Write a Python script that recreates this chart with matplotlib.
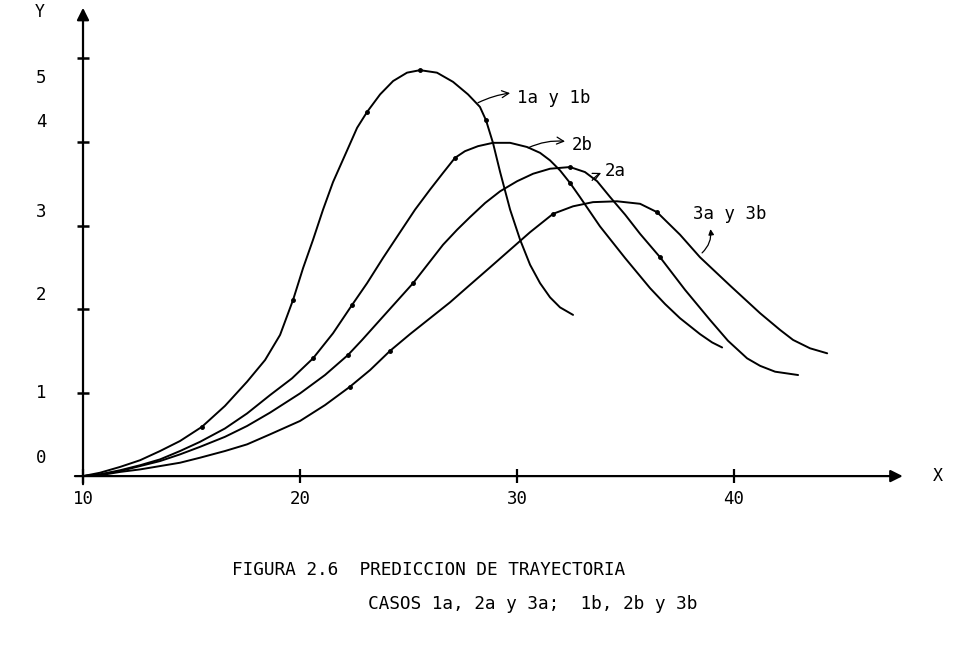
import matplotlib
matplotlib.use("Agg")
import matplotlib.pyplot as plt

# Curva 1a y 1b
x1 = [10.00, 10.78, 11.71, 12.63, 13.55, 14.47, 15.48, 16.54, 17.56, 18.39, 19.08, 19.68,
      20.14, 20.60, 21.06, 21.52, 22.17, 22.63, 23.09, 23.69, 24.29, 24.93, 25.53, 26.31,
      27.05, 27.74, 28.29, 28.57, 28.89, 29.22, 29.68, 30.14, 30.60, 31.06, 31.52, 31.98, 32.58]
y1 = [0.00, 0.04, 0.11, 0.19, 0.30, 0.42, 0.59, 0.84, 1.13, 1.39, 1.69, 2.11,
      2.49, 2.83, 3.19, 3.52, 3.90, 4.17, 4.36, 4.57, 4.73, 4.83, 4.86, 4.83,
      4.72, 4.57, 4.42, 4.26, 3.99, 3.64, 3.19, 2.83, 2.53, 2.31, 2.14, 2.02, 1.93]
dots1 = [6, 11, 18, 22, 27]

# Curva 2b
x2b = [10.00, 10.78, 11.71, 12.63, 13.55, 14.47, 15.39, 16.54, 17.56, 18.62, 19.63, 20.60,
       21.52, 22.40, 23.09, 23.82, 24.61, 25.30, 25.99, 26.59, 27.14, 27.60, 28.20, 28.89,
       29.68, 30.46, 31.06, 31.52, 31.98, 32.44, 32.90, 33.82, 34.98, 36.13, 36.82, 37.51,
       38.43, 38.99, 39.45]
y2b = [0.00, 0.02, 0.07, 0.13, 0.20, 0.30, 0.41, 0.57, 0.75, 0.97, 1.17, 1.41,
       1.71, 2.05, 2.31, 2.61, 2.92, 3.19, 3.43, 3.63, 3.81, 3.89, 3.95, 3.99,
       3.99, 3.94, 3.87, 3.78, 3.66, 3.51, 3.34, 2.99, 2.61, 2.25, 2.06, 1.89,
       1.70, 1.60, 1.54]
dots2b = [11, 13, 20, 29]

# Curva 2a
x2a = [10.00, 10.78, 11.71, 12.63, 13.55, 14.47, 15.39, 16.54, 17.56, 18.62, 20.00, 21.15,
       22.21, 22.86, 23.55, 24.38, 25.21, 25.90, 26.59, 27.24, 27.83, 28.53, 29.22, 30.00,
       30.74, 31.52, 32.44, 33.13, 33.69, 34.29, 34.98, 35.67, 36.59, 37.74, 38.89, 39.72,
       40.60, 41.20, 41.89, 42.95]
y2a = [0.00, 0.02, 0.06, 0.12, 0.18, 0.26, 0.35, 0.47, 0.60, 0.76, 0.99, 1.21,
       1.45, 1.63, 1.83, 2.07, 2.31, 2.54, 2.77, 2.95, 3.10, 3.27, 3.41, 3.53,
       3.62, 3.68, 3.70, 3.64, 3.53, 3.34, 3.13, 2.90, 2.62, 2.23, 1.87, 1.62,
       1.41, 1.32, 1.25, 1.21]
dots2a = [12, 16, 26, 32]

# Curva 3a y 3b
x3 = [10.00, 10.78, 11.71, 12.63, 13.55, 14.47, 15.39, 16.54, 17.56, 18.62, 20.00, 21.15,
      22.30, 23.23, 24.15, 25.07, 25.99, 26.91, 27.70, 28.76, 29.68, 30.60, 31.66, 32.58,
      33.50, 34.61, 35.67, 36.45, 37.51, 38.43, 39.82, 41.20, 42.12, 42.72, 43.50, 44.29]
y3 = [0.00, 0.01, 0.05, 0.08, 0.12, 0.16, 0.22, 0.30, 0.38, 0.50, 0.66, 0.85,
      1.07, 1.27, 1.50, 1.70, 1.89, 2.08, 2.26, 2.50, 2.71, 2.92, 3.14, 3.23,
      3.28, 3.29, 3.26, 3.16, 2.89, 2.62, 2.28, 1.95, 1.75, 1.63, 1.53, 1.47]
dots3 = [12, 14, 22, 27]

x_ticks = [10, 20, 30, 40]
y_ticks = [1, 2, 3, 4, 5]
# los numeros del eje Y estan escritos a mano, algo desplazados de las marcas
y_label_text = ["0", "1", "2", "3", "4", "5"]
y_label_pos = [0.22, 0.99, 2.17, 3.16, 4.24, 4.77]

mono = "DejaVu Sans Mono"
plt.rcParams["font.family"] = mono

fig = plt.figure(figsize=(9.55, 6.54), dpi=100)
ax = fig.add_axes([0, 0, 1, 1])
ax.set_xlim(6.175, 50.18)
ax.set_ylim(-2.13, 5.70)

for xs, ys, marks in [(x1, y1, dots1), (x2b, y2b, dots2b), (x2a, y2a, dots2a), (x3, y3, dots3)]:
    ax.plot(xs, ys, color="black", lw=1.4, marker="o", ms=2.5, markevery=marks,
            solid_joinstyle="round", solid_capstyle="round")

# ejes con flechas
ax.annotate("", xy=(47.9, 0), xytext=(9.5, 0),
            arrowprops=dict(arrowstyle="-|>", lw=1.6, color="black", mutation_scale=18))
ax.annotate("", xy=(10, 5.64), xytext=(10, -0.13),
            arrowprops=dict(arrowstyle="-|>", lw=1.6, color="black", mutation_scale=18))

for side in ["top", "right"]:
    ax.spines[side].set_visible(False)
ax.spines["left"].set_position(("data", 10))
ax.spines["bottom"].set_position(("data", 0))
ax.spines["left"].set_color("none")
ax.spines["bottom"].set_color("none")

ax.set_xticks(x_ticks)
ax.set_xticklabels([str(t) for t in x_ticks])
ax.set_yticks(y_ticks)
ax.tick_params(axis="x", direction="inout", length=10, width=1.6, pad=5, labelsize=12.5)
ax.tick_params(axis="y", direction="inout", length=9, width=1.8, labelleft=False)

for lab, yp in zip(y_label_text, y_label_pos):
    ax.text(8.06, yp, lab, fontsize=12.5, ha="center", va="center")
ax.text(8.02, 5.56, "Y", fontsize=12, ha="center", va="center")
ax.text(49.40, 0.0, "X", fontsize=12, ha="center", va="center")

# etiquetas de las curvas
ax.annotate("1a y 1b", xy=(28.20, 4.47), xytext=(30.0, 4.53), fontsize=12.5, va="center",
            arrowprops=dict(arrowstyle="<-", lw=0.9, color="black",
                            connectionstyle="arc3,rad=0.2", shrinkA=3, shrinkB=0))
ax.annotate("2b", xy=(30.51, 3.93), xytext=(32.53, 3.96), fontsize=12.5, va="center",
            arrowprops=dict(arrowstyle="<-", lw=0.9, color="black",
                            connectionstyle="arc3,rad=0.2", shrinkA=3, shrinkB=0))
ax.annotate("2a", xy=(33.46, 3.54), xytext=(34.06, 3.65), fontsize=12.5, va="center",
            arrowprops=dict(arrowstyle="<-", lw=0.9, color="black",
                            connectionstyle="arc3,rad=0.3", shrinkA=1, shrinkB=0))
ax.annotate("", xy=(38.89, 2.99), xytext=(38.43, 2.65),
            arrowprops=dict(arrowstyle="-|>", lw=0.9, color="black",
                            connectionstyle="arc3,rad=0.3", mutation_scale=8))
ax.text(38.11, 3.14, "3a y 3b", fontsize=12.5, va="center")

fig.text(0.243, 0.128, "FIGURA 2.6  PREDICCION DE TRAYECTORIA", fontsize=12.8, va="center")
fig.text(0.385, 0.0765, "CASOS 1a, 2a y 3a;  1b, 2b y 3b", fontsize=12.8, va="center")

fig.savefig("out.png", dpi=100)
